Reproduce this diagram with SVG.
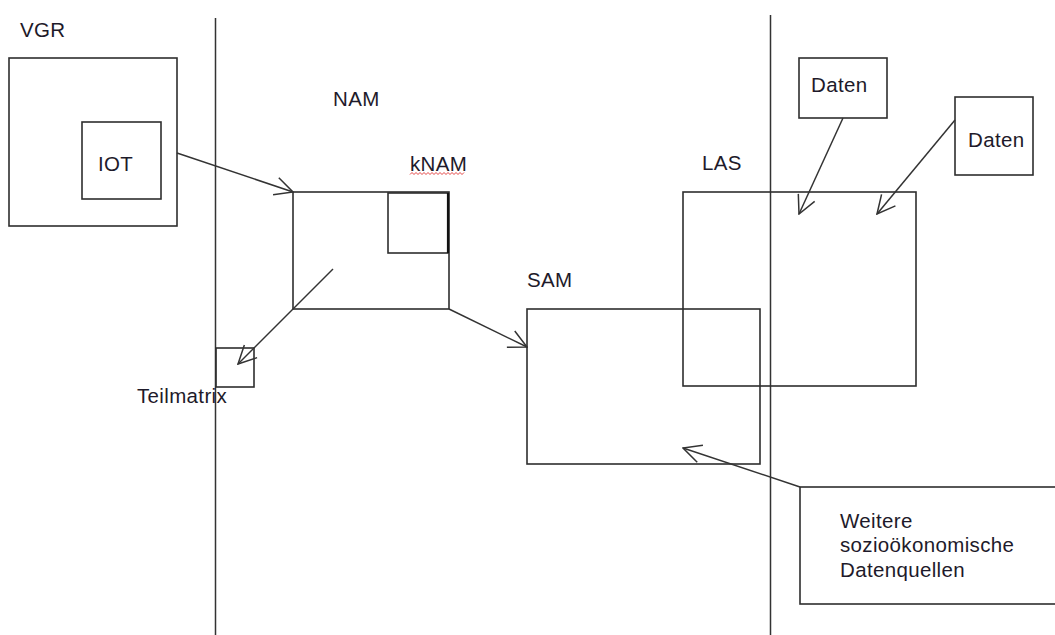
<svg xmlns="http://www.w3.org/2000/svg" width="1055" height="635" viewBox="0 0 1055 635">
<style>
.box{fill:none;stroke:#2e2e2e;stroke-width:1.6}
.ln{fill:none;stroke:#333;stroke-width:1.5}
.t{font-family:"Liberation Sans",Arial,sans-serif;font-size:20.5px;letter-spacing:0.35px;fill:#1e1a2a}
</style>
<defs>
<marker id="open" markerUnits="userSpaceOnUse" viewBox="-21 -11 22 22" refX="0" refY="0" markerWidth="22" markerHeight="22" orient="auto">
<path d="M-18,-9 L0,0 L-18,9" fill="none" stroke="#333" stroke-width="1.5"/>
</marker>
</defs>
<rect width="1055" height="635" fill="#fff"/>
<g id="dividers">
<line class="ln" x1="215.5" y1="18" x2="215.5" y2="635"/>
<line class="ln" x1="770.5" y1="15" x2="770.5" y2="635"/>
</g>
<g id="vgr">
<rect class="box" x="9" y="58" width="168" height="168"/>
<text class="t" x="20" y="37">VGR</text>
</g>
<g id="iot">
<rect class="box" x="82" y="122" width="79" height="77"/>
<text class="t" x="98" y="171">IOT</text>
</g>
<g id="nam">
<rect class="box" x="293" y="192" width="156" height="117"/>
<text class="t" x="333" y="106">NAM</text>
</g>
<g id="knam">
<rect class="box" x="388" y="193" width="60" height="60"/>
<line x1="448" y1="193" x2="448" y2="253" stroke="#111" stroke-width="2.2"/>
<text class="t" x="410" y="171">kNAM</text>
<path d="M410,174.5 l2,-2 l2,2 l2,-2 l2,2 l2,-2 l2,2 l2,-2 l2,2 l2,-2 l2,2 l2,-2 l2,2 l2,-2 l2,2 l2,-2 l2,2 l2,-2 l2,2 l2,-2 l2,2 l2,-2 l2,2 l2,-2 l2,2 l2,-2 l2,2 l2,-2" fill="none" stroke="#e03030" stroke-width="0.9"/>
</g>
<g id="teilmatrix">
<rect class="box" x="216" y="348" width="38" height="39"/>
<text class="t" x="137" y="403">Teilmatrix</text>
</g>
<g id="sam">
<rect class="box" x="527" y="309" width="233" height="155"/>
<text class="t" x="527" y="287">SAM</text>
</g>
<g id="las">
<rect class="box" x="683" y="192" width="233" height="194"/>
<text class="t" x="702" y="170">LAS</text>
</g>
<g id="daten1">
<rect class="box" x="799" y="58" width="88" height="60"/>
<text class="t" x="811" y="92">Daten</text>
</g>
<g id="daten2">
<rect class="box" x="955" y="97" width="78" height="78"/>
<text class="t" x="968" y="147">Daten</text>
</g>
<g id="weitere">
<rect class="box" x="800" y="487" width="262" height="117"/>
<text class="t" x="840" y="528">Weitere</text>
<text class="t" x="840" y="552">sozioökonomische</text>
<text class="t" x="840" y="577">Datenquellen</text>
</g>
<g id="connectors">
<line class="ln" x1="177" y1="153" x2="293" y2="192" marker-end="url(#open)"/>
<line class="ln" x1="333" y1="269" x2="238" y2="364" marker-end="url(#open)"/>
<line class="ln" x1="449" y1="309" x2="527" y2="347" marker-end="url(#open)"/>
<line class="ln" x1="843" y1="118" x2="799" y2="214" marker-end="url(#open)"/>
<line class="ln" x1="955" y1="120" x2="877" y2="214" marker-end="url(#open)"/>
<line class="ln" x1="800" y1="487" x2="683" y2="448" marker-end="url(#open)"/>
</g>
</svg>
